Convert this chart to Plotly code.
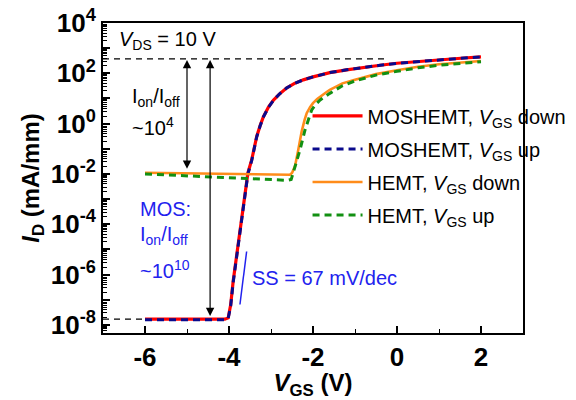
import math
import plotly.graph_objects as go

# ---------------- data ----------------
vgs_mos_down = [-6.0, -5.0, -4.5, -4.1, -4.02, -3.96, -3.9, -3.8, -3.7, -3.62, -3.55, -3.46, -3.4,
                -3.34, -3.26, -3.18, -3.06, -2.94, -2.8, -2.63, -2.45, -2.23, -2.0, -1.6, -1.2,
                -0.8, -0.4, 0.0, 0.4, 0.8, 1.2, 1.6, 2.0]
id_mos_down = [1.7e-8, 1.7e-8, 1.7e-8, 1.7e-8, 1.9e-8, 6.3e-8, 5.6e-7, 1.0e-5, 1.8e-4, 2.2e-3,
               1.1e-2, 3.6e-2, 0.11, 0.31, 0.83, 1.9, 4.6, 8.7, 15, 26, 39, 55, 72, 107, 138,
               174, 209, 251, 288, 331, 372, 407, 447]

vgs_mos_up = [-6.0, -5.0, -4.5, -4.1, -4.02, -3.96, -3.9, -3.8, -3.7, -3.62, -3.55, -3.46, -3.4,
              -3.34, -3.26, -3.18, -3.06, -2.94, -2.8, -2.63, -2.45, -2.23, -2.0, -1.6, -1.2,
              -0.8, -0.4, 0.0, 0.4, 0.8, 1.2, 1.6, 2.0]
id_mos_up = [1.6e-8, 1.6e-8, 1.6e-8, 1.6e-8, 1.8e-8, 5.6e-8, 5.0e-7, 9.0e-6, 1.6e-4, 2.0e-3,
             1.0e-2, 3.4e-2, 0.10, 0.30, 0.80, 1.85, 4.5, 8.5, 15, 26, 39, 55, 72, 107, 138,
             174, 209, 251, 288, 331, 372, 407, 447]

vgs_hemt_down = [-6.0, -5.0, -4.0, -3.0, -2.6, -2.55, -2.5, -2.43, -2.35, -2.27, -2.2, -2.15,
                 -2.07, -2.0, -1.9, -1.83, -1.7, -1.6, -1.3, -1.0, -0.5, 0.0, 0.5, 1.0, 1.5, 2.0]
id_hemt_down = [1.12e-2, 1.05e-2, 1.0e-2, 9.1e-3, 8.9e-3, 9.3e-3, 1.1e-2, 2.0e-2, 9.1e-2, 0.49,
                1.4, 2.6, 4.5, 6.5, 9.5, 12, 17, 22, 40, 56, 93, 132, 182, 229, 269, 309]

vgs_hemt_up = [-6.0, -5.0, -4.0, -3.0, -2.6, -2.52, -2.48, -2.4, -2.31, -2.19, -2.1, -2.03,
               -1.93, -1.83, -1.6, -1.3, -1.0, -0.5, 0.0, 0.5, 1.0, 1.5, 2.0]
id_hemt_up = [1.0e-2, 8.3e-3, 7.1e-3, 6.0e-3, 5.6e-3, 6.0e-3, 1.1e-2, 2.8e-2, 9.1e-2, 0.56,
              1.6, 3.5, 6.0, 8.7, 16, 32, 50, 85, 120, 166, 209, 251, 288]

series_names = ["MOSHEMT, <i>V</i><sub>GS</sub> down", "MOSHEMT, <i>V</i><sub>GS</sub> up",
                "HEMT, <i>V</i><sub>GS</sub> down", "HEMT, <i>V</i><sub>GS</sub> up"]

# reference levels / guide lines
ion_level = 372          # mA/mm, upper dashed line
ion_line_x = [-7.0, -0.24]
ioff_level = 1.7e-8      # mA/mm, lower dashed line
ioff_line_x = [-7.0, -6.0]
hemt_off_level = 1.4e-2
arrow1_x = -5.0
arrow2_x = -4.45
ss_line_x = [-3.74, -3.58]
ss_line_y = [6.5e-8, 8.3e-6]

x_tick_vals = [-6, -4, -2, 0, 2]
x_tick_text = ["-6", "-4", "-2", "0", "2"]
y_decades = list(range(-8, 5))

# ---------------- figure ----------------
FONT = "Liberation Sans, Arial, sans-serif"
BLUE_TXT = "#2222ee"

fig = go.Figure()
styles = [dict(color="#ff0000", width=3.2),
          dict(color="#0a0a8c", width=3, dash="7px,5px"),
          dict(color="#ff8c1a", width=2.6),
          dict(color="#129012", width=3, dash="7px,5px")]
for i, (xs, ys) in enumerate([(vgs_mos_down, id_mos_down), (vgs_mos_up, id_mos_up),
                              (vgs_hemt_down, id_hemt_down), (vgs_hemt_up, id_hemt_up)]):
    fig.add_trace(go.Scatter(x=xs, y=ys, mode="lines", name=series_names[i],
                             legendgroup="g%d" % i, line=styles[i]))

# dashed guide lines
fig.add_trace(go.Scatter(x=ion_line_x, y=[ion_level, ion_level], mode="lines", showlegend=False,
                         line=dict(color="black", width=1.2, dash="6px,5px"), hoverinfo="skip"))
fig.add_trace(go.Scatter(x=ioff_line_x, y=[ioff_level, ioff_level], mode="lines", showlegend=False,
                         line=dict(color="black", width=1.2, dash="6px,5px"), hoverinfo="skip"))
# SS indicator line
fig.add_trace(go.Scatter(x=ss_line_x, y=ss_line_y, mode="lines", showlegend=False,
                         line=dict(color=BLUE_TXT, width=1.5), hoverinfo="skip"))


def L(v):
    return math.log10(v)


annotations = []
# double arrows
for ax_x, lo in [(arrow1_x, hemt_off_level), (arrow2_x, ioff_level * 1.15)]:
    annotations.append(dict(x=ax_x, y=L(ion_level * 0.92), ax=ax_x, ay=L(lo), xref="x", yref="y",
                            axref="x", ayref="y", text="", showarrow=True, arrowhead=2,
                            arrowside="end+start", arrowsize=1.4, arrowwidth=1.2, arrowcolor="black"))

txt = dict(family=FONT, size=20, color="black")
btxt = dict(family=FONT, size=20, color=BLUE_TXT)
annotations += [
    dict(x=0.033, y=0.945, xref="paper", yref="paper", text="<i>V</i><sub>DS</sub> = 10 V",
         showarrow=False, xanchor="left", yanchor="middle", font=txt),
    dict(x=0.064, y=0.76, xref="paper", yref="paper", text="I<sub>on</sub>/I<sub>off</sub>",
         showarrow=False, xanchor="left", yanchor="middle", font=txt),
    dict(x=0.064, y=0.665, xref="paper", yref="paper", text="~10<sup>4</sup>",
         showarrow=False, xanchor="left", yanchor="middle", font=txt),
    dict(x=0.083, y=0.40, xref="paper", yref="paper", text="MOS:",
         showarrow=False, xanchor="left", yanchor="middle", font=btxt),
    dict(x=0.083, y=0.315, xref="paper", yref="paper", text="I<sub>on</sub>/I<sub>off</sub>",
         showarrow=False, xanchor="left", yanchor="middle", font=btxt),
    dict(x=0.083, y=0.205, xref="paper", yref="paper", text="~10<sup>10</sup>",
         showarrow=False, xanchor="left", yanchor="middle", font=btxt),
    dict(x=0.35, y=0.178, xref="paper", yref="paper", text="SS = 67 mV/dec",
         showarrow=False, xanchor="left", yanchor="middle", font=btxt),
]

fig.update_layout(
    width=576, height=400,
    margin=dict(l=103, r=53, t=23, b=67, autoexpand=False),
    paper_bgcolor="white", plot_bgcolor="white",
    font=dict(family=FONT, color="black"),
    showlegend=True,
    legend=dict(x=0.487, y=0.763, xanchor="left", yanchor="top", bgcolor="rgba(0,0,0,0)",
                font=dict(family=FONT, size=20, color="black"), itemwidth=50,
                traceorder="grouped", tracegroupgap=4),
    annotations=annotations,
    xaxis=dict(range=[-7, 3], tickmode="array", tickvals=x_tick_vals,
               ticktext=["<b>%s</b>" % t for t in x_tick_text],
               ticks="inside", ticklen=7, tickwidth=1.5, tickcolor="black",
               minor=dict(ticks="inside", ticklen=4, tickwidth=1.2, tickcolor="black",
                          tickmode="linear", tick0=0, dtick=1),
               showline=True, linewidth=2, linecolor="black", mirror=True,
               showgrid=False, zeroline=False, automargin=False,
               tickfont=dict(family=FONT, size=26, color="black"),
               title=dict(text="<b><i>V</i><sub>GS</sub> (V)</b>",
                          font=dict(family=FONT, size=24, color="black"), standoff=2)),
    yaxis=dict(type="log", range=[-8.32, 4], tickmode="array",
               tickvals=[10.0 ** d for d in y_decades],
               ticktext=[("<b>10<sup>%d</sup></b>" % d) if d % 2 == 0 else "" for d in y_decades],
               ticks="inside", ticklen=7, tickwidth=1.5, tickcolor="black",
               minor=dict(ticks="inside", ticklen=4, tickwidth=1, tickcolor="black", dtick="D1"),
               showline=True, linewidth=2, linecolor="black", mirror=True,
               showgrid=False, zeroline=False, automargin=False,
               tickfont=dict(family=FONT, size=26, color="black"),
               title=dict(text="<b><i>I</i><sub>D</sub> (mA/mm)</b>",
                          font=dict(family=FONT, size=24, color="black"), standoff=4)),
)

fig.write_html("out.html", config={"displayModeBar": False},
               post_script="document.body.style.margin='0px';")
